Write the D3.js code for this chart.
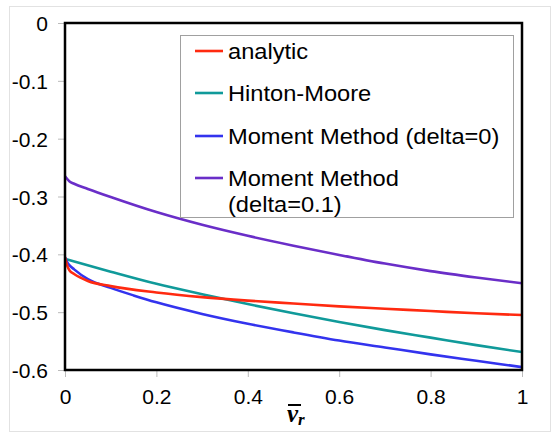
<!DOCTYPE html>
<html><head><meta charset="utf-8">
<script src="https://cdn.jsdelivr.net/npm/d3@7"></script>
<style>body{margin:0;background:#fff}svg{display:block}</style>
</head><body>
<script>
const xTicks = [0, 0.2, 0.4, 0.6, 0.8, 1];
const yTicks = [0, -0.1, -0.2, -0.3, -0.4, -0.5, -0.6];
const seriesNames = ["analytic", "Hinton-Moore", "Moment Method (delta=0)", "Moment Method (delta=0.1)"];
const seriesColors = ["#ff2a10", "#109a9a", "#3333ee", "#6a2ec8"];
const analyticX = [0, 0.005, 0.01, 0.02, 0.05, 0.1, 0.2, 0.3, 0.4, 0.5, 0.6, 0.7, 0.8, 0.9, 1.0];
const analyticY = [-0.405, -0.42, -0.428, -0.434, -0.446, -0.455, -0.466, -0.474, -0.480, -0.485, -0.490, -0.494, -0.498, -0.502, -0.505];
const hintonX = [0, 0.1, 0.2, 0.3, 0.4, 0.5, 0.6, 0.7, 0.8, 0.9, 1.0];
const hintonY = [-0.408, -0.430, -0.451, -0.469, -0.486, -0.502, -0.517, -0.531, -0.544, -0.557, -0.569];
const mm0X = [0, 0.005, 0.01, 0.02, 0.05, 0.1, 0.15, 0.2, 0.3, 0.4, 0.5, 0.6, 0.7, 0.8, 0.9, 1.0];
const mm0Y = [-0.405, -0.414, -0.419, -0.426, -0.443, -0.458, -0.471, -0.483, -0.503, -0.520, -0.535, -0.549, -0.561, -0.573, -0.584, -0.595];
const mm1X = [0, 0.01, 0.02, 0.05, 0.1, 0.2, 0.3, 0.4, 0.5, 0.6, 0.7, 0.8, 0.9, 1.0];
const mm1Y = [-0.265, -0.274, -0.278, -0.287, -0.301, -0.327, -0.349, -0.368, -0.385, -0.401, -0.416, -0.429, -0.440, -0.450];

const W = 552, H = 433;
const m = {left: 65, right: 522, top: 23, bottom: 370};
const svg = d3.select("body").append("svg").attr("width", W).attr("height", H);
const font = "'Liberation Sans', Arial, sans-serif";

svg.append("rect").attr("x", 9.5).attr("y", 6.5).attr("width", 541).attr("height", 425)
  .attr("fill", "none").attr("stroke", "#e2e2e2");

const x = d3.scaleLinear().domain([0, 1]).range([m.left, m.right]);
const y = d3.scaleLinear().domain([-0.6, 0]).range([m.bottom, m.top]);
const fmt = d => d === 0 ? "0" : d === 1 ? "1" : d3.format(".1f")(d).replace("\u2212", "-");

// axes
const yAxis = svg.append("g").attr("transform", `translate(${m.left - 1},0)`)
  .call(d3.axisLeft(y).tickValues(yTicks).tickSize(6).tickPadding(10).tickFormat(fmt));
const xAxis = svg.append("g").attr("transform", `translate(0,${m.bottom + 1})`)
  .call(d3.axisBottom(x).tickValues(xTicks).tickSize(6).tickPadding(12).tickFormat(fmt));
[yAxis, xAxis].forEach(a => {
  a.select(".domain").remove();
  a.selectAll(".tick line").attr("stroke", "#bbb");
  a.selectAll(".tick text").attr("font-family", font).attr("font-size", 21).attr("fill", "#000");
});
yAxis.selectAll(".tick text").attr("dy", "0.36em");

// series
const series = [
  {xs: analyticX, ys: analyticY},
  {xs: hintonX, ys: hintonY},
  {xs: mm0X, ys: mm0Y},
  {xs: mm1X, ys: mm1Y}
];
const line = d3.line().x(d => x(d[0])).y(d => y(d[1])).curve(d3.curveMonotoneX);
svg.append("clipPath").attr("id", "clip").append("rect")
  .attr("x", m.left).attr("y", m.top).attr("width", m.right - m.left).attr("height", m.bottom - m.top);
[3, 1, 2, 0].forEach(i => {
  const s = series[i];
  svg.append("path").datum(s.xs.map((v, j) => [v, s.ys[j]]))
    .attr("d", line).attr("fill", "none").attr("stroke", seriesColors[i])
    .attr("stroke-width", 2.6).attr("clip-path", "url(#clip)");
});

// frame
svg.append("rect").attr("x", m.left).attr("y", m.top).attr("width", m.right - m.left).attr("height", m.bottom - m.top)
  .attr("fill", "none").attr("stroke", "#000").attr("stroke-width", 2.5);

// legend
const lg = svg.append("g");
lg.append("rect").attr("x", 180.5).attr("y", 35.5).attr("width", 333).attr("height", 182)
  .attr("fill", "#fff").attr("stroke", "#a0a0a0").attr("stroke-width", 1);
const rowY = [51, 93, 136, 178];
seriesNames.forEach((n, i) => {
  lg.append("line").attr("x1", 195).attr("x2", 223).attr("y1", rowY[i]).attr("y2", rowY[i])
    .attr("stroke", seriesColors[i]).attr("stroke-width", 2.6);
  const t = lg.append("text").attr("transform", `translate(228,${rowY[i]}) scale(1.1,1)`).attr("dy", "0.36em")
    .attr("font-family", font).attr("font-size", 21.5).attr("fill", "#000");
  if (i === 3) {
    t.append("tspan").text("Moment Method");
    t.append("tspan").attr("x", 0).attr("dy", "1.2em").text("(delta=0.1)");
  } else t.text(n);
});

// x axis title: nu-bar sub r
const xt = svg.append("text").attr("x", 287).attr("y", 422)
  .attr("font-family", "'Liberation Serif', 'DejaVu Serif', serif").attr("font-weight", "bold").attr("font-style", "italic")
  .attr("font-size", 25).attr("fill", "#000");
xt.append("tspan").text("ν");
xt.append("tspan").attr("font-size", 17).attr("dy", 3).text("r");
svg.append("line").attr("x1", 288).attr("x2", 301).attr("y1", 405).attr("y2", 405)
  .attr("stroke", "#000").attr("stroke-width", 2);
</script>
</body></html>
